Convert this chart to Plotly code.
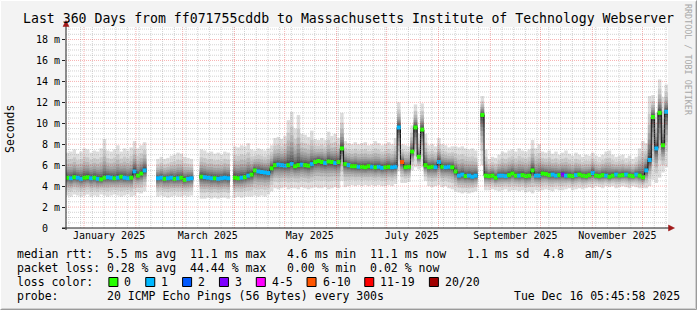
import numpy as np
import pandas as pd
import plotly.graph_objects as go

# ------------------------------------------------------------------ data
END_TIME = "2025-12-16 05:45:58"
SPAN_DAYS = 360
BIN_DAYS = 2            # one value per 2-day bin, 180 bins

# median round-trip time per bin (ms); None = no data
median_rtt_ms = [
    4.8, 4.75, 4.85, 4.8, 4.7, 4.8, 4.85, 4.75, 4.8, 4.7,
    4.65, 4.8, 4.85, 4.8, 4.75, 4.8, 4.9, 4.8, 4.75, 4.8,
    5.4, 5.0, 5.2, 5.5, None, None, None, 4.75, 4.8, 4.7,
    4.75, 4.8, 4.7, 4.75, 4.8, 4.6, 4.7, 4.75, None, None,
    4.9, 4.85, 4.8, 4.75, 4.75, 4.7, 4.75, 4.8, 4.75, None,
    4.8, 4.75, 4.8, 4.85, 5.0, 5.1, 5.5, 5.4, 5.35, 5.3,
    5.25, 5.7, 6.0, 6.05, 6.0, 5.95, 6.0, 6.1, 5.9, 6.0,
    6.05, 6.0, 5.95, 6.1, 6.3, 6.4, 6.3, 6.2, 6.35, 6.3,
    6.2, 6.3, 7.6, 6.1, 6.0, 5.9, 5.9, 5.85, 5.85, 5.8,
    5.9, 5.85, 5.8, 5.85, 5.75, 5.8, 5.85, 5.8, 5.85, 9.6,
    6.3, 5.8, 5.85, 7.3, 9.6, 6.8, 9.4, 6.0, 5.8, 5.85,
    5.8, 6.3, 5.85, 5.8, 5.85, 5.8, 5.4, 5.0, 5.1, 4.95,
    5.0, 4.9, 5.0, None, 10.8, 5.0, 4.95, 5.0, 4.8, 5.0,
    5.0, 4.95, 5.05, 5.2, 5.0, 5.0, 5.05, 4.95, 5.0, 5.5,
    5.0, 5.0, 5.2, 5.15, 5.05, 5.1, 5.0, 5.05, 5.1, 5.0,
    5.0, 4.95, 5.05, 5.1, 5.0, 4.95, 5.05, 5.25, 5.0, 4.95,
    5.05, 5.0, 4.9, 5.0, 5.1, 5.0, 5.05, 5.1, 5.0, 4.95,
    5.1, 5.0, 4.85, 5.5, 6.5, 10.6, 7.6, 11.0, 7.9, 11.1,
]

# highest ping per bin (ms)
smoke_high_ms = [
    7.2, 7.3, 7.5, 7.1, 7.3, 7.6, 7.5, 7.2, 7.4, 7.3,
    7.6, 8.5, 7.4, 7.3, 7.5, 7.9, 7.3, 7.6, 7.4, 7.7,
    8.3, 7.6, 7.9, 8.2, None, None, None, 6.6, 6.8, 6.6,
    6.7, 6.9, 7.0, 7.2, 7.1, 6.8, 6.7, 6.6, None, None,
    7.5, 7.4, 7.2, 7.3, 7.1, 7.2, 7.0, 7.3, 7.2, None,
    7.8, 7.7, 7.9, 7.8, 8.1, 7.5, 7.4, 7.6, 7.5, 7.4,
    7.6, 7.9, 8.6, 8.7, 8.5, 8.8, 10.3, 11.1, 9.5, 10.8,
    9.0, 8.9, 8.7, 9.3, 8.5, 8.4, 8.6, 8.4, 9.2, 8.8,
    9.0, 8.6, 11.0, 8.3, 8.1, 8.0, 8.2, 8.0, 8.1, 8.2,
    7.9, 8.0, 8.3, 8.1, 7.9, 8.0, 8.2, 8.0, 8.6, 12.0,
    8.0, 7.9, 7.8, 9.8, 11.8, 9.0, 11.9, 9.0, 7.9, 8.0,
    7.8, 8.6, 8.0, 7.9, 7.7, 7.8, 7.8, 7.7, 7.8, 7.6,
    7.5, 7.6, 7.4, None, 12.6, 7.5, 6.6, 6.8, 6.7, 7.0,
    7.3, 7.2, 7.4, 7.5, 7.3, 7.6, 7.4, 7.3, 7.5, 8.4,
    7.6, 8.0, 7.3, 7.2, 7.4, 7.1, 7.3, 7.0, 7.2, 7.4,
    7.1, 6.9, 7.2, 7.0, 6.8, 7.0, 6.9, 7.2, 6.9, 6.8,
    7.0, 7.3, 7.4, 7.0, 6.8, 6.9, 7.0, 6.7, 6.9, 6.6,
    6.8, 7.6, 8.3, 8.1, 12.6, 12.7, 11.0, 14.2, 12.5, 13.7,
]

# lowest ping per bin (ms)
smoke_low_ms = [
    3.1, 3.0, 3.2, 3.1, 3.0, 3.1, 3.2, 3.0, 3.1, 3.0,
    3.2, 3.1, 3.0, 3.1, 3.2, 3.1, 3.0, 3.1, 3.2, 3.0,
    3.1, 3.4, 3.3, 3.5, None, None, None, 3.0, 3.1, 3.0,
    2.9, 3.0, 3.1, 3.0, 3.0, 3.1, 3.0, 3.1, None, None,
    2.8, 2.8, 2.9, 2.8, 2.9, 2.8, 2.9, 2.9, 2.8, None,
    2.9, 3.0, 2.9, 3.0, 3.0, 3.0, 3.1, 3.0, 3.1, 3.0,
    3.2, 3.5, 3.8, 3.7, 3.8, 3.9, 3.7, 3.8, 3.8, 3.7,
    3.9, 3.8, 3.7, 3.8, 3.9, 3.8, 3.8, 3.9, 3.7, 3.8,
    3.9, 3.8, 4.5, 3.9, 4.0, 4.1, 4.0, 4.1, 4.0, 4.1,
    4.0, 4.1, 4.0, 4.1, 4.0, 4.0, 4.1, 4.0, 4.2, 5.4,
    4.3, 4.3, 4.4, 5.5, 5.8, 5.6, 5.8, 4.5, 4.0, 3.9,
    4.0, 4.1, 3.9, 4.0, 3.8, 3.7, 3.5, 3.4, 3.3, 3.4,
    3.3, 3.4, 3.5, None, 6.0, 3.6, 3.6, 3.7, 3.6, 3.5,
    3.6, 3.7, 3.5, 3.6, 3.6, 3.5, 3.6, 3.4, 3.5, 3.3,
    3.6, 3.5, 3.6, 3.7, 3.6, 3.5, 3.7, 3.6, 3.6, 3.7,
    3.8, 3.6, 3.7, 3.8, 3.7, 3.8, 3.9, 3.8, 4.0, 3.9,
    3.8, 4.0, 3.9, 4.0, 3.8, 3.9, 4.0, 3.9, 3.8, 4.0,
    3.9, 3.8, 3.8, 3.8, 4.0, 4.6, 4.3, 4.8, 5.3, 5.8,
]

# lost pings (of 20) per bin
lost_pings = [
    0, 1, 0, 1, 1, 0, 0, 1, 0, 1,
    0, 0, 1, 1, 0, 1, 0, 1, 1, 0,
    1, 0, 0, 1, None, None, None, 1, 1, 0,
    1, 1, 0, 1, 0, 0, 1, 1, None, None,
    0, 1, 1, 1, 0, 1, 1, 1, 1, None,
    0, 0, 1, 0, 1, 0, 0, 1, 1, 1,
    1, 0, 0, 1, 1, 1, 0, 1, 0, 0,
    1, 0, 0, 1, 0, 0, 0, 1, 0, 0,
    1, 0, 0, 0, 1, 0, 0, 1, 0, 0,
    0, 1, 0, 1, 1, 0, 0, 1, 1, 1,
    7, 0, 0, 0, 0, 0, 0, 0, 0, 0,
    1, 1, 0, 1, 1, 0, 0, 1, 1, 0,
    1, 1, 1, None, 0, 0, 0, 0, 0, 1,
    1, 1, 0, 0, 0, 1, 0, 0, 0, 0,
    1, 1, 0, 0, 0, 1, 1, 0, 3, 1,
    0, 0, 1, 0, 0, 0, 0, 1, 0, 0,
    0, 1, 0, 0, 1, 0, 0, 1, 0, 0,
    1, 0, 0, 1, 1, 0, 1, 0, 0, 1,
]

month_label_dates = ["2025-01-16", "2025-03-16", "2025-05-16",
                     "2025-07-16", "2025-09-16", "2025-11-16"]
month_labels = ["January 2025", "March 2025", "May 2025",
                "July 2025", "September 2025", "November 2025"]

y_tick_values = [0, 2, 4, 6, 8, 10, 12, 14, 16, 18]
y_tick_text = ["0\u00a0\u00a0", "2 m", "4 m", "6 m", "8 m", "10 m",
               "12 m", "14 m", "16 m", "18 m"]

loss_labels = ["0", "1", "2", "3", "4-5", "6-10", "11-19", "20/20"]
loss_upper = [0, 1, 2, 3, 5, 10, 19, 20]
loss_colors = ["#26ff00", "#00b8ff", "#0059ff", "#7e00ff",
               "#ff00ff", "#ff5500", "#ff0000", "#a00000"]

title_text = ("Last 360 Days from ff071755cddb to "
              "Massachusetts Institute of Technology Webserver")
stats_rtt = ("median rtt:  5.5 ms avg  11.1 ms max   4.6 ms min  "
             "11.1 ms now   1.1 ms sd  4.8   am/s")
stats_loss = "packet loss: 0.28 % avg  44.44 % max   0.00 % min  0.02 % now"
probe_text = "probe:       20 ICMP Echo Pings (56 Bytes) every 300s"
stamp_text = "Tue Dec 16 05:45:58 2025"

# ------------------------------------------------------------------ layout geometry
W, H = 697, 310
L, R, T, B = 66, 29, 27, 82
PW, PH = W - L - R, H - T - B
Y_MAX = PH / 10.47
MONO = "DejaVu Sans Mono"


def px(x, y):
    """pixel -> paper coordinates"""
    return (x - L) / PW, (H - B - y) / PH


def nb(s):
    return s.replace(" ", "\u00a0")


t_end = pd.Timestamp(END_TIME)
t_start = t_end - pd.Timedelta(days=SPAN_DAYS)
n_bins = len(median_rtt_ms)
bin_start = pd.date_range(t_start, periods=n_bins, freq=f"{BIN_DAYS}D")
bin_center = bin_start + pd.Timedelta(days=BIN_DAYS / 2)
bin_ms = BIN_DAYS * 86400000

med = np.array(median_rtt_ms, dtype=float)
hi = np.array(smoke_high_ms, dtype=float)
lo = np.array(smoke_low_ms, dtype=float)


def clean(a):
    return [None if np.isnan(v) else float(v) for v in a]


fig = go.Figure()

# smoke: pairs of pings, outermost lightest (smokeping style shading)
fractions = [1.0, 0.72, 0.55, 0.42, 0.32, 0.24, 0.17, 0.11, 0.06, 0.03]
half = len(fractions)
for i, f in enumerate(fractions, start=1):
    g = int(190 / half * (half - i)) + 50
    top = med + (hi - med) * f
    bot = med - (med - lo) * f
    fig.add_trace(go.Bar(
        x=bin_center, y=clean(top - bot), base=clean(bot),
        width=bin_ms * 1.03, marker=dict(color=f"rgb({g},{g},{g})", line_width=0),
        hoverinfo="skip", showlegend=False))

# median step line
fig.add_trace(go.Scatter(
    x=bin_center, y=median_rtt_ms, mode="lines",
    line=dict(color="#111111", width=1, shape="hvh"),
    connectgaps=False, hoverinfo="skip", showlegend=False))


def loss_color(n):
    if n is None:
        return "#000000"
    for up, c in zip(loss_upper, loss_colors):
        if n <= up:
            return c
    return loss_colors[-1]


# median coloured by packet loss
fig.add_trace(go.Scatter(
    x=bin_center, y=median_rtt_ms, mode="markers",
    marker=dict(symbol="square", size=4,
                color=[loss_color(n) for n in lost_pings], line_width=0),
    hoverinfo="skip", showlegend=False))

shapes = []
# grid (drawn above the graph, like rrdtool)
minor_col = "rgba(143,143,143,0.40)"
major_col = "rgba(229,0,0,0.30)"
month_starts = pd.date_range("2025-01-01", t_end, freq="MS")
weeks = [d for d in pd.date_range("2024-12-23", t_end, freq="7D")
         if d > t_start and d not in set(month_starts)]
for d in weeks:
    shapes.append(dict(type="line", xref="x", yref="paper", x0=d, x1=d, y0=0, y1=1,
                       layer="above", line=dict(color=minor_col, width=1, dash="1px,1px")))
for v in np.arange(0.5, Y_MAX, 0.5):
    if abs(v % 2) > 1e-9:
        shapes.append(dict(type="line", xref="paper", yref="y", x0=0, x1=1, y0=v, y1=v,
                           layer="above", line=dict(color=minor_col, width=1, dash="1px,1px")))
for d in month_starts:
    shapes.append(dict(type="line", xref="x", yref="paper", x0=d, x1=d, y0=0, y1=1,
                       layer="above", line=dict(color=major_col, width=1, dash="1px,1px")))
for v in y_tick_values[1:]:
    shapes.append(dict(type="line", xref="paper", yref="y", x0=0, x1=1, y0=v, y1=v,
                       layer="above", line=dict(color=major_col, width=1, dash="1px,1px")))

# axes with arrows
ax_col = "#202020"
arrow_col = "#a01818"
x0p, y0p = px(66, 230)
x1p, y1p = px(66, 24)
shapes.append(dict(type="line", xref="paper", yref="paper", x0=x0p, x1=x1p,
                   y0=y0p, y1=y1p, layer="above", line=dict(color=ax_col, width=1)))
x0p, y0p = px(62, 228)
x1p, y1p = px(669, 228)
shapes.append(dict(type="line", xref="paper", yref="paper", x0=x0p, x1=x1p,
                   y0=y0p, y1=y1p, layer="above", line=dict(color=ax_col, width=1)))


def tri(pts):
    p = [px(*q) for q in pts]
    return "M {} {} L {} {} L {} {} Z".format(p[0][0], p[0][1], p[1][0], p[1][1], p[2][0], p[2][1])


shapes.append(dict(type="path", xref="paper", yref="paper", layer="above",
                   path=tri([(66, 20.5), (63, 26.5), (69, 26.5)]),
                   fillcolor=arrow_col, line=dict(color=arrow_col, width=0.5)))
shapes.append(dict(type="path", xref="paper", yref="paper", layer="above",
                   path=tri([(674.5, 228), (668.5, 225), (668.5, 231)]),
                   fillcolor=arrow_col, line=dict(color=arrow_col, width=0.5)))

# loss colour boxes
annotations = []
box_left = 108.9
for lab, col in zip(loss_labels, loss_colors):
    bx0, by0 = px(box_left, 286.5)
    bx1, by1 = px(box_left + 9, 277.5)
    shapes.append(dict(type="rect", xref="paper", yref="paper", x0=bx0, x1=bx1,
                       y0=by0, y1=by1, fillcolor=col, line=dict(color="#000000", width=1)))
    ax, ay = px(box_left + 13.5, 282)
    annotations.append(dict(text=nb(lab), x=ax, y=ay, xref="paper", yref="paper",
                            xanchor="left", yanchor="middle", showarrow=False,
                            font=dict(family=MONO, size=11.5, color="#000")))
    box_left += 29.9 + 6.95 * len(lab)

# image frame (3d look)
for (xa, ya, xb, yb, c) in [(0.5, 0.5, 696.5, 0.5, "#ffffff"), (0.5, 0.5, 0.5, 309.5, "#ffffff"),
                            (0.5, 309.5, 696.5, 309.5, "#9a9a9a"), (696.5, 0.5, 696.5, 309.5, "#9a9a9a"),
                            (1.5, 308.5, 695.5, 308.5, "#cfcfcf"), (695.5, 1.5, 695.5, 308.5, "#cfcfcf")]:
    pa, pb = px(xa, ya), px(xb, yb)
    shapes.append(dict(type="line", xref="paper", yref="paper", x0=pa[0], y0=pa[1],
                       x1=pb[0], y1=pb[1], line=dict(color=c, width=1)))


def text_at(s, x, y, anchor="left", size=11.5, color="#000", angle=0):
    ax, ay = px(x, y)
    annotations.append(dict(text=nb(s), x=ax, y=ay, xref="paper", yref="paper",
                            xanchor=anchor, yanchor="middle", showarrow=False,
                            textangle=angle, font=dict(family=MONO, size=size, color=color)))


text_at(title_text, 348.5, 18, anchor="center", size=13.2)
text_at(stats_rtt, 15, 254)
text_at(stats_loss, 15, 268)
text_at("loss color:", 15, 282)
text_at(probe_text, 15, 296)
text_at(stamp_text, 682, 296, anchor="right")
text_at("Seconds", 10, 129, anchor="center", angle=-90)
text_at("RRDTOOL / TOBI OETIKER", 688, 60, anchor="center", size=8.4, color="#a8a8a8", angle=90)

fig.update_layout(
    width=W, height=H, autosize=False,
    margin=dict(l=L, r=R, t=T, b=B, pad=0),
    paper_bgcolor="#f3f3f3", plot_bgcolor="#ffffff",
    barmode="overlay", showlegend=False,
    shapes=shapes, annotations=annotations,
    xaxis=dict(type="date", range=[t_start, t_end], showgrid=False, zeroline=False,
               showline=False, tickmode="array", tickvals=month_label_dates,
               ticktext=month_labels, ticks="", fixedrange=True,
               tickfont=dict(family=MONO, size=10, color="#000")),
    yaxis=dict(range=[0, Y_MAX], showgrid=False, zeroline=False, showline=False,
               tickmode="array", tickvals=y_tick_values, ticktext=y_tick_text,
               ticks="outside", ticklen=3, tickcolor=ax_col, fixedrange=True,
               tickfont=dict(family=MONO, size=10, color="#000")),
)

fig.write_html("out.html")
